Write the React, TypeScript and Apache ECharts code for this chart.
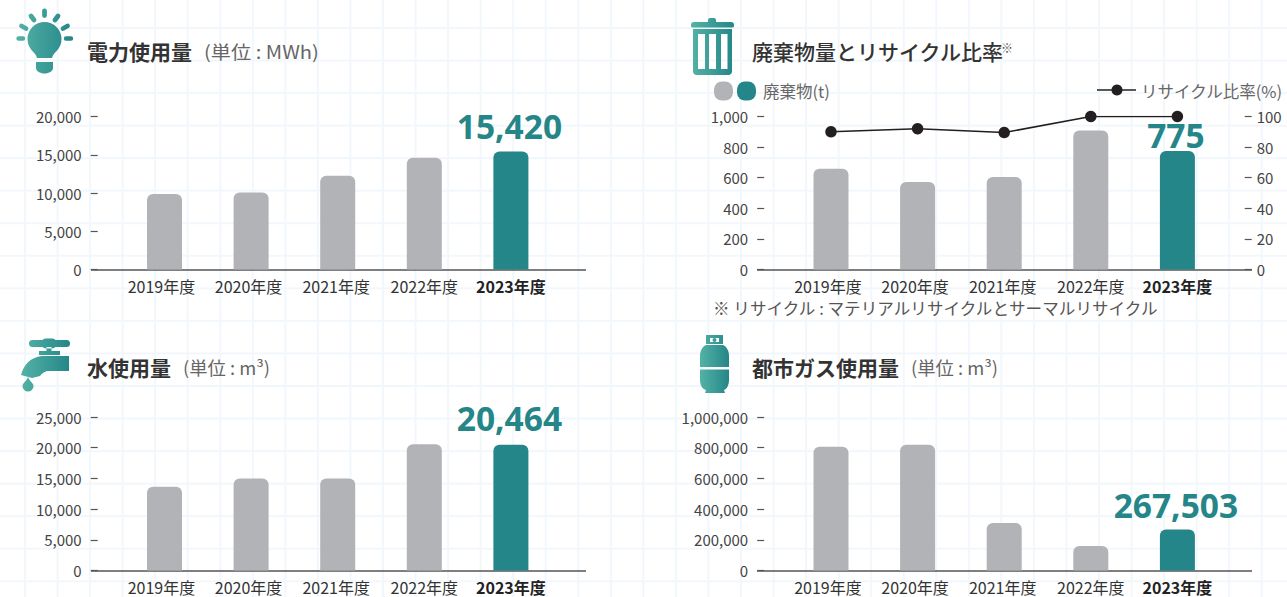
import React, { useEffect, useRef } from "react";
import * as echarts from "echarts";

const years = ["2019年度", "2020年度", "2021年度", "2022年度", "2023年度"];
const power = [9870, 10060, 12240, 14600, 15420];
const waste = [658, 572, 605, 908, 775];
const recycle = [90, 92, 89.5, 100, 100];
const water = [13650, 14970, 14970, 20560, 20464];
const gas = [806000, 820000, 310000, 160000, 267503];

const GRAY = "#b2b3b6";
const TEAL = "#248688";
const FONT = "'Noto Sans CJK JP','Noto Sans',sans-serif";

function capsule(x1: number, y1: number, x2: number, y2: number, r: number) {
  const l = Math.hypot(x2 - x1, y2 - y1) || 1;
  const nx = (-(y2 - y1) / l) * r;
  const ny = ((x2 - x1) / l) * r;
  return `M${x1 + nx} ${y1 + ny}L${x2 + nx} ${y2 + ny}A${r} ${r} 0 0 0 ${x2 - nx} ${y2 - ny}L${x1 - nx} ${y1 - ny}A${r} ${r} 0 0 0 ${x1 + nx} ${y1 + ny}Z`;
}

const bulbPath =
  "M37 58C36 52 27.5 50 27.5 39A17 17 0 0 1 61.5 39C61.5 50 53 52 52 58Z" +
  "M36 62H53V68C53 71 49 73.5 44.5 73.5C40 73.5 36 71 36 68Z" +
  capsule(44.5, 11, 44.5, 15.5, 2.4) +
  capsule(31, 16, 34, 20, 2.4) +
  capsule(58, 16, 55, 20, 2.4) +
  capsule(21.5, 26, 26, 28.5, 2.4) +
  capsule(67.5, 26, 63, 28.5, 2.4) +
  capsule(18.5, 38.5, 23, 38.5, 2.2) +
  capsule(66, 38.5, 71, 38.5, 2.2);

const trashPath =
  "M708 22V20Q708 18 710 18H714Q716 18 716 20V22H731Q734 22 734 25V26Q734 27.5 732 27.5H693Q691 27.5 691 26V25Q691 22 694 22Z" +
  "M693 29H732V71Q732 75 728 75H697Q693 75 693 71Z" +
  "M698 34V69H705V34Z M709 34V69H716V34Z M721 34V69H727.5V34Z";

const faucetPath =
  capsule(32.5, 343.5, 66.5, 343.5, 3.5) +
  capsule(46, 343.5, 52, 343.5, 5) +
  "M46.5 347H51.5V351H46.5Z M39 351H60V355H39Z" +
  "M69 356V371H49C45 371 42 373 40 376L32 378L21 375C23 366 30 357 42 356Z" +
  "M28 377C30 382 33.5 383 33.5 386A5.5 5.5 0 0 1 22.5 386C22.5 383 26 382 28 377Z";

const gasPath =
  "M706 345H723C727 347 729 351 729 356V367H700V356C700 351 702 347 706 345Z" +
  "M700 369.5H729V380C729 385 727 389 724 390L725 393H705L706 390C702 389 700 385 700 380Z" +
  "M706 335H723V344H706Z M710 338V342H719V338Z";

echarts.graphic.registerShape("iconBulb", echarts.graphic.extendPath(bulbPath, {}));
echarts.graphic.registerShape("iconTrash", echarts.graphic.extendPath(trashPath, {}));
echarts.graphic.registerShape("iconFaucet", echarts.graphic.extendPath(faucetPath, {}));
echarts.graphic.registerShape("iconGas", echarts.graphic.extendPath(gasPath, {}));

const iconFill = () =>
  new echarts.graphic.LinearGradient(0, 0, 1, 0, [
    { offset: 0, color: "#54b2a6" },
    { offset: 1, color: "#248688" },
  ]);

const fmt = (v: number) => v.toLocaleString("en-US");

const txt = (x: number, y: number, text: string, fontSize: number, fill: string, fontWeight: any = "normal", scaleX = 1) => ({
  type: "text",
  x,
  y,
  scaleX,
  silent: true,
  style: { text, fontSize, fill, fontWeight, fontFamily: FONT, align: "left", verticalAlign: "middle" },
});

const hline = (x1: number, x2: number, y: number, stroke: string, lineWidth: number) => ({
  type: "line",
  silent: true,
  shape: { x1, y1: y, x2, y2: y },
  style: { stroke, lineWidth },
});

const barData = (vals: number[], distance: number) =>
  vals.map((value, i) =>
    i === vals.length - 1
      ? {
          value,
          itemStyle: { color: TEAL },
          label: {
            show: true,
            position: "top",
            distance,
            offset: [-1.5, 0],
            color: TEAL,
            fontSize: 33.5,
            fontWeight: "bold",
            fontFamily: "'Noto Sans',sans-serif",
            formatter: (p: any) => fmt(p.value),
          },
        }
      : { value, itemStyle: { color: GRAY } }
  );

const shifts = [6, 5, 3, 0, 0];
const cats = years.map((y, i) =>
  i === years.length - 1
    ? { value: y, textStyle: { fontWeight: "bold", color: "#222" } }
    : { value: y, textStyle: { padding: [0, shifts[i], 0, 0] } }
);

export default function App() {
  const ref = useRef<HTMLDivElement>(null);
  useEffect(() => {
    document.body.style.margin = "0";
    const chart = echarts.init(ref.current!, null, { renderer: "svg" });
    const grids = [
      { left: 121.2, width: 433, top: 116.5, height: 153 },
      { left: 787.7, width: 433, top: 116.5, height: 153 },
      { left: 121.2, width: 433, top: 417, height: 153.5 },
      { left: 787.7, width: 433, top: 417, height: 153.5 },
    ];
    const yBase = (gridIndex: number, max: number, interval: number) => ({
      type: "value",
      gridIndex,
      min: 0,
      max,
      interval,
      offset: 23.5,
      splitLine: { show: false },
      axisLine: { show: false },
      axisTick: { show: true, length: 7, lineStyle: { color: "#555", width: 1.2 } },
      axisLabel: { color: "#444", fontSize: 15, margin: 16, fontFamily: FONT, formatter: fmt },
    });
    const bar = (i: number, yAxisIndex: number, vals: number[], dist: number) => ({
      type: "bar",
      xAxisIndex: i,
      yAxisIndex,
      data: barData(vals, dist),
      barWidth: 35,
      z: 2,
      itemStyle: { borderRadius: [6, 6, 0, 0] },
    });
    const rightAxis = yBase(1, 100, 20);
    rightAxis.axisLabel = { ...rightAxis.axisLabel, margin: 12 };
    chart.setOption({
      animation: false,
      backgroundColor: "transparent",
      grid: grids,
      xAxis: grids.map((_, i) => ({
        type: "category",
        gridIndex: i,
        data: cats,
        axisLine: { show: false },
        axisTick: { show: false },
        axisLabel: { color: "#333", fontSize: 16, margin: 8, interval: 0, fontFamily: FONT },
      })),
      yAxis: [
        yBase(0, 20000, 5000),
        yBase(1, 1000, 200),
        { ...rightAxis, position: "right", offset: 24 },
        yBase(2, 25000, 5000),
        yBase(3, 1000000, 200000),
      ],
      series: [
        bar(0, 0, power, 9),
        bar(1, 1, waste, -1),
        {
          type: "line",
          xAxisIndex: 1,
          yAxisIndex: 2,
          data: recycle,
          symbol: "circle",
          symbolSize: 11.5,
          z: 3,
          lineStyle: { color: "#231f20", width: 1.5 },
          itemStyle: { color: "#231f20" },
        },
        bar(2, 3, water, 10),
        bar(3, 4, gas, 7),
      ],
      graphic: [
        hline(91, 586, 270, "#555", 1.5),
        hline(757, 1252, 270, "#555", 1.5),
        hline(91, 586, 571, "#555", 1.5),
        hline(757, 1252, 571, "#555", 1.5),
        { type: "iconBulb", x: 0, y: 0, silent: true, style: { fill: iconFill() } },
        { type: "iconTrash", x: 0, y: 0, silent: true, style: { fill: iconFill() } },
        { type: "iconFaucet", x: 0, y: 0, silent: true, style: { fill: iconFill() } },
        { type: "iconGas", x: 0, y: 0, silent: true, style: { fill: iconFill() } },
        { type: "circle", silent: true, shape: { cx: 714.5, cy: 340, r: 2 }, style: { fill: "#3f9d98" } },
        txt(87, 50.5, "電力使用量", 21, "#333", "bold"),
        txt(204, 51, "(単位 : MWh)", 18, "#666", "normal", 1.12),
        txt(752, 51, "廃棄物量とリサイクル比率", 21, "#333", 500),
        txt(1001, 47, "※", 12, "#555"),
        txt(87, 367, "水使用量", 21, "#333", "bold"),
        txt(183, 367.5, "(単位 : m³)", 18, "#666", "normal", 1.02),
        txt(752, 367, "都市ガス使用量", 21, "#333", "bold"),
        txt(911, 367.5, "(単位 : m³)", 18, "#666", "normal", 1.02),
        { type: "rect", silent: true, shape: { x: 714, y: 81.5, width: 19, height: 19, r: 8 }, style: { fill: GRAY } },
        { type: "rect", silent: true, shape: { x: 737, y: 81.5, width: 19, height: 19, r: 8 }, style: { fill: TEAL } },
        txt(763, 90.5, "廃棄物(t)", 16.5, "#666"),
        hline(1097, 1136, 90, "#231f20", 1.5),
        { type: "circle", silent: true, shape: { cx: 1117, cy: 90, r: 5.5 }, style: { fill: "#231f20" } },
        txt(1141, 90.5, "リサイクル比率(%)", 16.5, "#666"),
        txt(713, 308, "※ リサイクル : マテリアルリサイクルとサーマルリサイクル", 16.6, "#555"),
      ],
    });
    return () => chart.dispose();
  }, []);
  return (
    <div
      ref={ref}
      style={{
        width: 1287,
        height: 597,
        backgroundColor: "#fff",
        backgroundImage:
          "linear-gradient(to right,#f2f7fc 2px,transparent 2px),linear-gradient(to bottom,#f2f7fc 2px,transparent 2px)",
        backgroundSize: "32.55px 32.55px",
        backgroundPosition: "24px 27px",
      }}
    />
  );
}
